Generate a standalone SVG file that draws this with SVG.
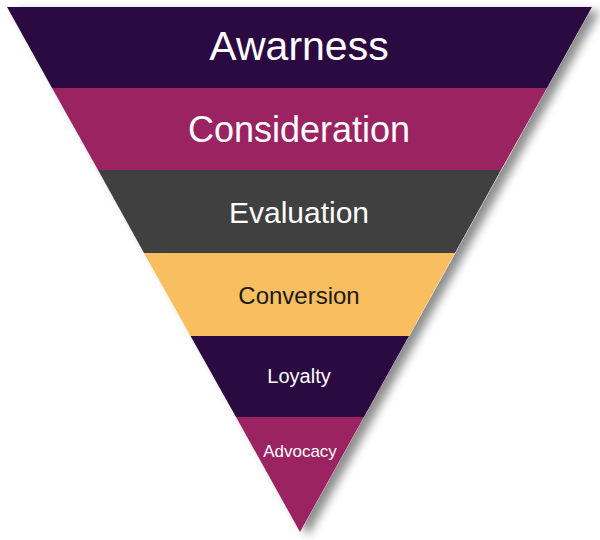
<svg xmlns="http://www.w3.org/2000/svg" width="600" height="540" viewBox="0 0 600 540">
<style>
text{font-family:"Liberation Sans",Arial,sans-serif;text-anchor:middle}
.w{fill:#fff}.k{fill:#1a1a1a}
</style>
<defs>
<filter id="sh" x="-10%" y="-10%" width="130%" height="130%">
<feGaussianBlur in="SourceAlpha" stdDeviation="5"/>
<feOffset dx="8" dy="4"/>
<feComponentTransfer><feFuncA type="linear" slope="0.45"/></feComponentTransfer>
<feMerge><feMergeNode/><feMergeNode in="SourceGraphic"/></feMerge>
</filter>
</defs>
<polygon points="7,7 592,7 300,532" fill="#fff" filter="url(#sh)"/>
<g id="awareness"><polygon points="7,7 592,7 547,88 52,88" fill="#2b0a42"/><text class="w" x="299" y="60" font-size="41">Awarness</text></g>
<g id="consideration"><polygon points="52,88 547,88 501,170 98,170" fill="#9c2362"/><text class="w" x="299" y="142" font-size="36">Consideration</text></g>
<g id="evaluation"><polygon points="98,170 501,170 455,253 144,253" fill="#404040"/><text class="w" x="299" y="223" font-size="30">Evaluation</text></g>
<g id="conversion"><polygon points="144,253 455,253 409,336 190.5,336" fill="#f9be5f"/><text class="k" x="299" y="304" font-size="24">Conversion</text></g>
<g id="loyalty"><polygon points="190.5,336 409,336 364,417 236,417" fill="#2b0a42"/><text class="w" x="299" y="383" font-size="20">Loyalty</text></g>
<g id="advocacy"><polygon points="236,417 364,417 300,532" fill="#9c2362"/><text class="w" x="300" y="457" font-size="17">Advocacy</text></g>
<g id="connectors"/>
</svg>
